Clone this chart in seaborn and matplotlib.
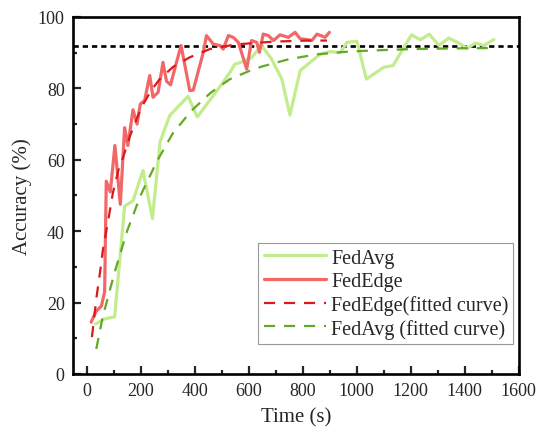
import numpy as np
import pandas as pd
import matplotlib
matplotlib.use("Agg")
import matplotlib.pyplot as plt
import seaborn as sns

# FedAvg accuracy over training time
fedavg_time = [33, 67, 104, 141, 172, 209, 244, 272, 308, 376, 410, 494, 531, 549, 580,
               612, 648, 685, 723, 753, 791, 865, 902, 939, 964, 1001, 1036, 1100, 1135,
               1168, 1203, 1236, 1269, 1304, 1341, 1385, 1409, 1440, 1471, 1508]
fedavg_acc = [14.0, 15.4, 16.0, 47.0, 48.5, 57.0, 43.5, 65.0, 72.4, 77.8, 72.0, 80.5, 84.5, 86.8, 87.5,
              88.7, 92.0, 88.2, 82.6, 72.5, 85.0, 89.6, 90.3, 90.0, 92.9, 93.2, 82.6, 85.9, 86.4,
              90.6, 95.0, 93.6, 95.2, 92.0, 94.1, 92.4, 91.2, 92.7, 92.0, 93.7]

# FedEdge accuracy over training time
fededge_time = [17, 35, 55, 67, 73, 88, 105, 125, 141, 153, 172, 187, 199, 215, 234, 246,
                265, 283, 296, 311, 333, 350, 382, 395, 432, 444, 469, 494, 506, 525, 543,
                562, 593, 611, 630, 640, 654, 673, 692, 716, 747, 772, 791, 815, 834, 853,
                883, 899]
fededge_acc = [14.5, 17.5, 19.0, 23.0, 54.0, 51.0, 64.0, 47.5, 69.0, 64.0, 74.0, 70.0, 75.6, 76.6,
               83.6, 77.5, 78.9, 87.3, 82.0, 81.0, 87.3, 92.0, 79.4, 79.5, 90.0, 94.8, 92.4, 92.0,
               91.0, 94.8, 94.3, 92.9, 85.4, 93.4, 92.9, 90.1, 95.2, 94.8, 93.4, 95.0, 94.3, 95.7,
               93.9, 93.7, 93.4, 95.2, 94.3, 95.7]

# Fitted curves
fededge_fit_time = [20, 36, 50, 61, 79, 98, 122, 135, 160, 203, 240, 271, 320, 382, 456, 550,
                    692, 820, 890]
fededge_fit_acc = [10.3, 21.0, 28.5, 35.0, 42.5, 50.9, 58.3, 60.6, 66.5, 74.7, 79.5, 82.6, 86.0,
                   88.7, 91.0, 92.3, 93.1, 93.4, 93.4]

fedavg_fit_time = [36, 60, 104, 150, 200, 260, 320, 389, 460, 531, 600, 648, 750, 850, 950,
                   1050, 1200, 1350, 1500]
fedavg_fit_acc = [7.0, 16.0, 28.5, 40.0, 50.0, 59.5, 67.5, 73.8, 78.8, 82.6, 84.8, 86.1, 88.2,
                  89.5, 90.2, 90.6, 91.0, 91.2, 91.3]

target_acc = 92.0

x_ticks = [0, 200, 400, 600, 800, 1000, 1200, 1400, 1600]
y_ticks = [0, 20, 40, 60, 80, 100]

sns.set_style("ticks")
plt.rcParams["font.family"] = ["Liberation Serif", "DejaVu Serif"]
plt.rcParams["xtick.direction"] = "in"
plt.rcParams["ytick.direction"] = "in"

fig = plt.figure(figsize=(5.37, 4.39), dpi=100)
ax = fig.add_axes([0.136, 0.146, 0.830, 0.813])

df_avg = pd.DataFrame({"t": fedavg_time, "acc": fedavg_acc})
df_edge = pd.DataFrame({"t": fededge_time, "acc": fededge_acc})
df_edge_fit = pd.DataFrame({"t": fededge_fit_time, "acc": fededge_fit_acc})
df_avg_fit = pd.DataFrame({"t": fedavg_fit_time, "acc": fedavg_fit_acc})

ax.axhline(target_acc, color="black", lw=1.9, ls=(0, (2.0, 1.5)), zorder=1)

sns.lineplot(data=df_avg, x="t", y="acc", ax=ax, color="#c3ec8e", lw=2.3,
             label="FedAvg", sort=False, zorder=2)
sns.lineplot(data=df_edge, x="t", y="acc", ax=ax, color="#f26868", lw=2.3,
             label="FedEdge", sort=False, zorder=3)
sns.lineplot(data=df_edge_fit, x="t", y="acc", ax=ax, color="#d91a1a", lw=1.6,
             ls=(0, (5, 4)), label="FedEdge(fitted curve)", zorder=4)
sns.lineplot(data=df_avg_fit, x="t", y="acc", ax=ax, color="#63a826", lw=1.6,
             ls=(0, (5, 4)), label="FedAvg (fitted curve)", zorder=4)

ax.set_xlim(-50, 1600)
ax.set_ylim(0, 100)
ax.set_xticks(x_ticks)
ax.set_yticks(y_ticks)
ax.set_xticks(np.arange(100, 1600, 200), minor=True)
ax.set_yticks(np.arange(10, 100, 20), minor=True)
ax.tick_params(axis="both", which="major", length=5.5, width=1.6, labelsize=13,
               top=False, right=False, pad=6)
ax.tick_params(axis="both", which="minor", length=3, width=1.6, top=False, right=False)

for side in ["left", "right", "top", "bottom"]:
    ax.spines[side].set_visible(True)
    ax.spines[side].set_linewidth(1.9)
    ax.spines[side].set_color("black")

ax.set_xlabel("Time (s)", fontsize=15, labelpad=6)
ax.set_ylabel("Accuracy (%)", fontsize=15, labelpad=4)

leg = ax.legend(loc="lower right", bbox_to_anchor=(0.988, 0.085), fontsize=14.5,
                frameon=True, fancybox=False, edgecolor="#999999", framealpha=1,
                handlelength=3.1, handletextpad=0.25, labelspacing=0.2,
                borderpad=0.25, borderaxespad=0)
leg.get_frame().set_linewidth(0.8)

fig.savefig("out.png", dpi=100)
